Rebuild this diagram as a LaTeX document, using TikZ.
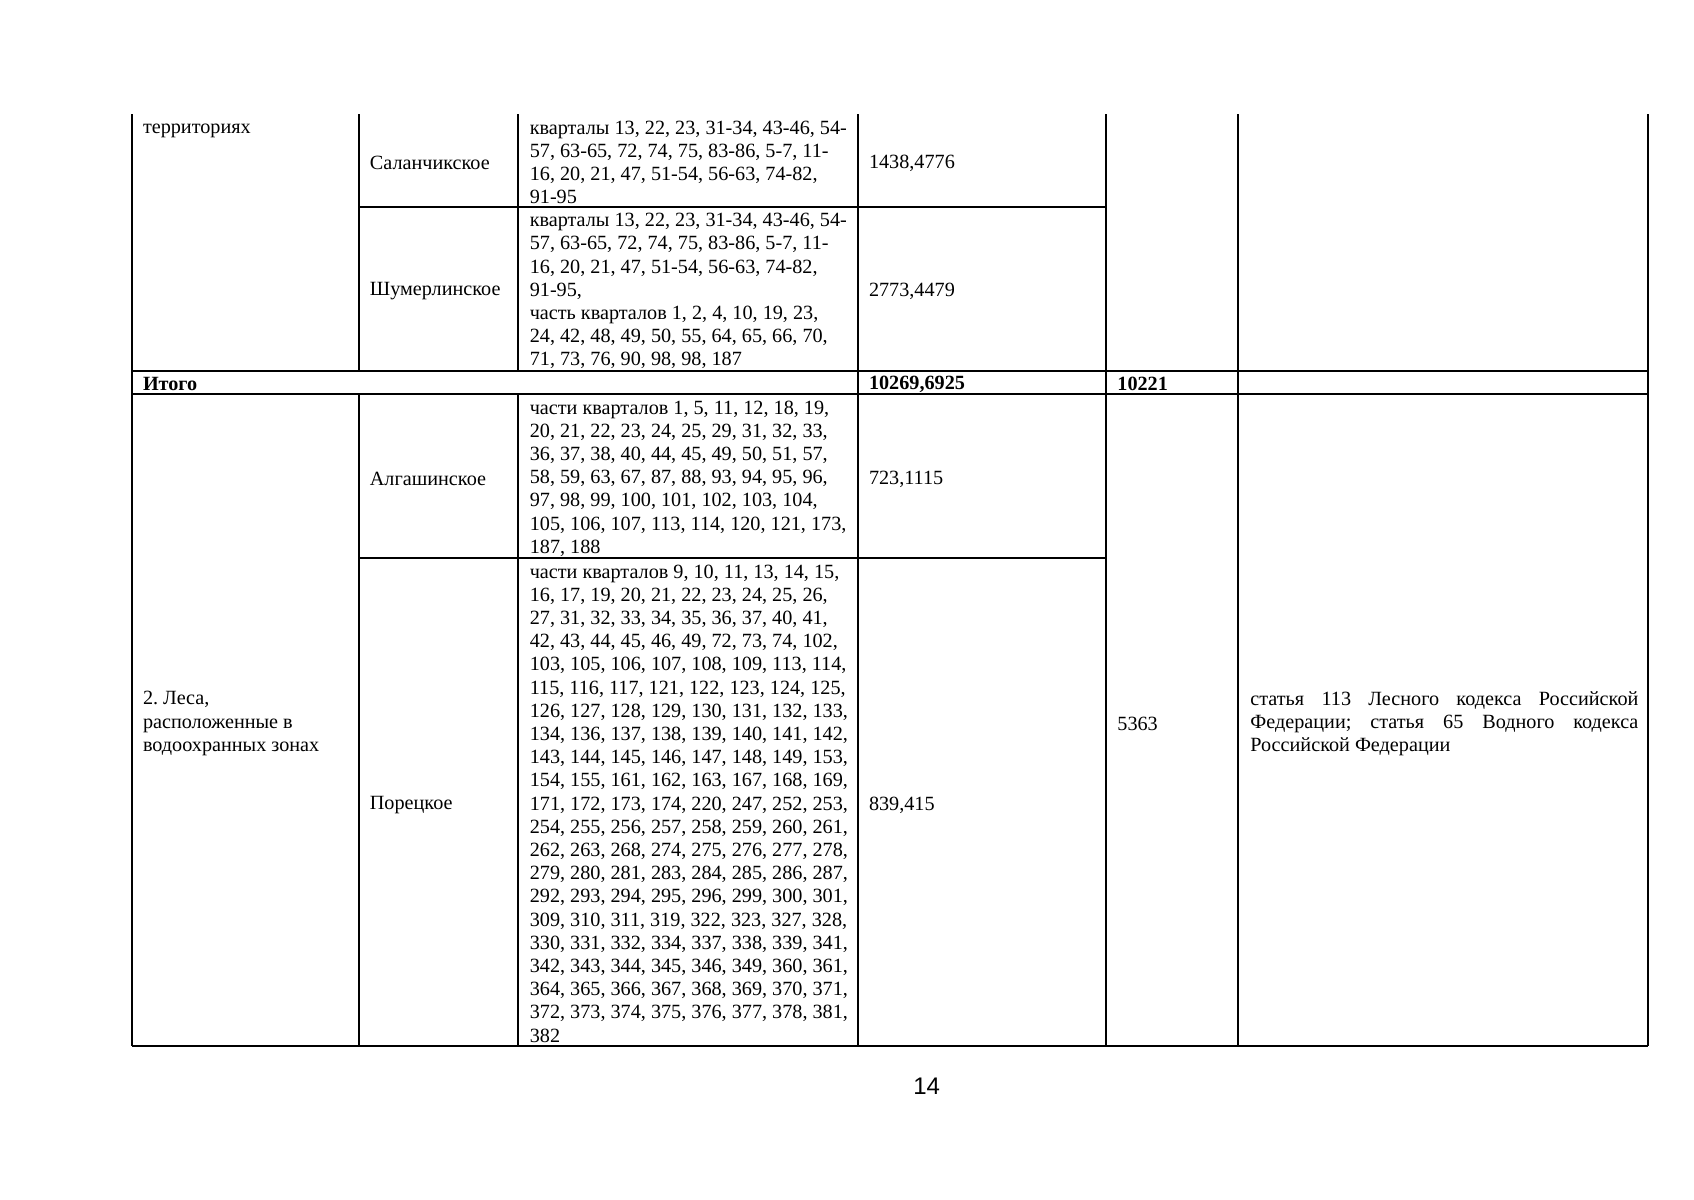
\documentclass[tikz,border=0pt]{standalone}
\usepackage{fontspec}
\setmainfont{Liberation Serif}
\newfontfamily\pgnumfont{Liberation Sans}
\frenchspacing
\begin{document}
\begin{tikzpicture}[x=0.5pt,y=-0.5pt,
  grid/.style={line width=1pt,black},
  cell/.style={font=\fontsize{10.1}{11.6}\selectfont, inner sep=0pt, anchor=west, align=left},
  cellb/.style={cell, font=\fontsize{10.1}{11.6}\selectfont\bfseries}]
\fill[white] (0,0) rectangle (1694,1200);
\useasboundingbox (0,0) rectangle (1694,1200);
% grid coordinates
\def\xL{132}\def\xa{358.5}\def\xb{518}\def\xc{857.5}\def\xd{1105.5}\def\xe{1238}\def\xR{1648}
\def\yT{114}\def\ya{207.3}\def\yb{370.7}\def\yc{394}\def\yd{558.3}\def\yB{1046}
% vertical lines
\draw[grid] (\xL,\yT) -- (\xL,\yB);
\draw[grid] (\xa,\yT) -- (\xa,\yb);
\draw[grid] (\xa,\yc) -- (\xa,\yB);
\draw[grid] (\xb,\yT) -- (\xb,\yb);
\draw[grid] (\xb,\yc) -- (\xb,\yB);
\draw[grid] (\xc,\yT) -- (\xc,\yB);
\draw[grid] (\xd,\yT) -- (\xd,\yB);
\draw[grid] (\xe,\yT) -- (\xe,\yB);
\draw[grid] (\xR,\yT) -- (\xR,\yB);
% horizontal lines
\draw[grid] (\xa,\ya) -- (\xd,\ya);
\draw[grid] (\xL,\yb) -- (\xR,\yb);
\draw[grid] (\xL,\yc) -- (\xR,\yc);
\draw[grid] (\xa,\yd) -- (\xd,\yd);
\draw[grid] (\xL,\yB) -- (\xR,\yB);
% row: территориях
\node[cell] (terr) at (142.6,130.5) {территориях};
\node[cell] (salan) at (369.5,163) {Саланчикское};
\node[cell] (salanq) at (529.4,162.5) {кварталы 13, 22, 23, 31-34, 43-46, 54-\\57, 63-65, 72, 74, 75, 83-86, 5-7, 11-\\16, 20, 21, 47, 51-54, 56-63, 74-82,\\91-95};
\node[cell] (salanv) at (868.6,163) {1438,4776};
\node[cell] (shum) at (369.5,291.5) {Шумерлинское};
\node[cell] (shumq) at (529.4,291.2) {кварталы 13, 22, 23, 31-34, 43-46, 54-\\57, 63-65, 72, 74, 75, 83-86, 5-7, 11-\\16, 20, 21, 47, 51-54, 56-63, 74-82,\\91-95,\\часть кварталов 1, 2, 4, 10, 19, 23,\\24, 42, 48, 49, 50, 55, 64, 65, 66, 70,\\71, 73, 76, 90, 98, 98, 187};
\node[cell] (shumv) at (868.6,291.5) {2773,4479};
% Итого
\node[cellb] (itogo) at (142.6,384) {Итого};
\node[cellb] (itogov) at (868.6,384) {10269,6925};
\node[cellb] (itogon) at (1117,384) {10221};
% row 2
\node[cell] (lesa) at (142.6,723.5) {2. Леса,\\расположенные в\\водоохранных зонах};
\node[cell] (alg) at (369.5,479) {Алгашинское};
\node[cell] (algq) at (529.4,478.5) {части кварталов 1, 5, 11, 12, 18, 19,\\20, 21, 22, 23, 24, 25, 29, 31, 32, 33,\\36, 37, 38, 40, 44, 45, 49, 50, 51, 57,\\58, 59, 63, 67, 87, 88, 93, 94, 95, 96,\\97, 98, 99, 100, 101, 102, 103, 104,\\105, 106, 107, 113, 114, 120, 121, 173,\\187, 188};
\node[cell] (algv) at (868.6,479) {723,1115};
\node[cell] (por) at (369.5,805.5) {Порецкое};
\node[cell] (porq) at (529.4,803.5) {части кварталов 9, 10, 11, 13, 14, 15,\\16, 17, 19, 20, 21, 22, 23, 24, 25, 26,\\27, 31, 32, 33, 34, 35, 36, 37, 40, 41,\\42, 43, 44, 45, 46, 49, 72, 73, 74, 102,\\103, 105, 106, 107, 108, 109, 113, 114,\\115, 116, 117, 121, 122, 123, 124, 125,\\126, 127, 128, 129, 130, 131, 132, 133,\\134, 136, 137, 138, 139, 140, 141, 142,\\143, 144, 145, 146, 147, 148, 149, 153,\\154, 155, 161, 162, 163, 167, 168, 169,\\171, 172, 173, 174, 220, 247, 252, 253,\\254, 255, 256, 257, 258, 259, 260, 261,\\262, 263, 268, 274, 275, 276, 277, 278,\\279, 280, 281, 283, 284, 285, 286, 287,\\292, 293, 294, 295, 296, 299, 300, 301,\\309, 310, 311, 319, 322, 323, 327, 328,\\330, 331, 332, 334, 337, 338, 339, 341,\\342, 343, 344, 345, 346, 349, 360, 361,\\364, 365, 366, 367, 368, 369, 370, 371,\\372, 373, 374, 375, 376, 377, 378, 381,\\382};
\node[cell] (porv) at (868.6,805.5) {839,415};
\node[cell] (area) at (1117,723.5) {5363};
\node[cell] (law) at (1250,723.5) {\makebox[194pt][s]{статья 113 Лесного кодекса Российской}\\\makebox[194pt][s]{Федерации; статья 65 Водного кодекса}\\Российской Федерации};
% page number
\node[inner sep=0pt, font=\pgnumfont\fontsize{12}{14}\selectfont] (pg) at (926.7,1086.7) {14};
\end{tikzpicture}
\end{document}
